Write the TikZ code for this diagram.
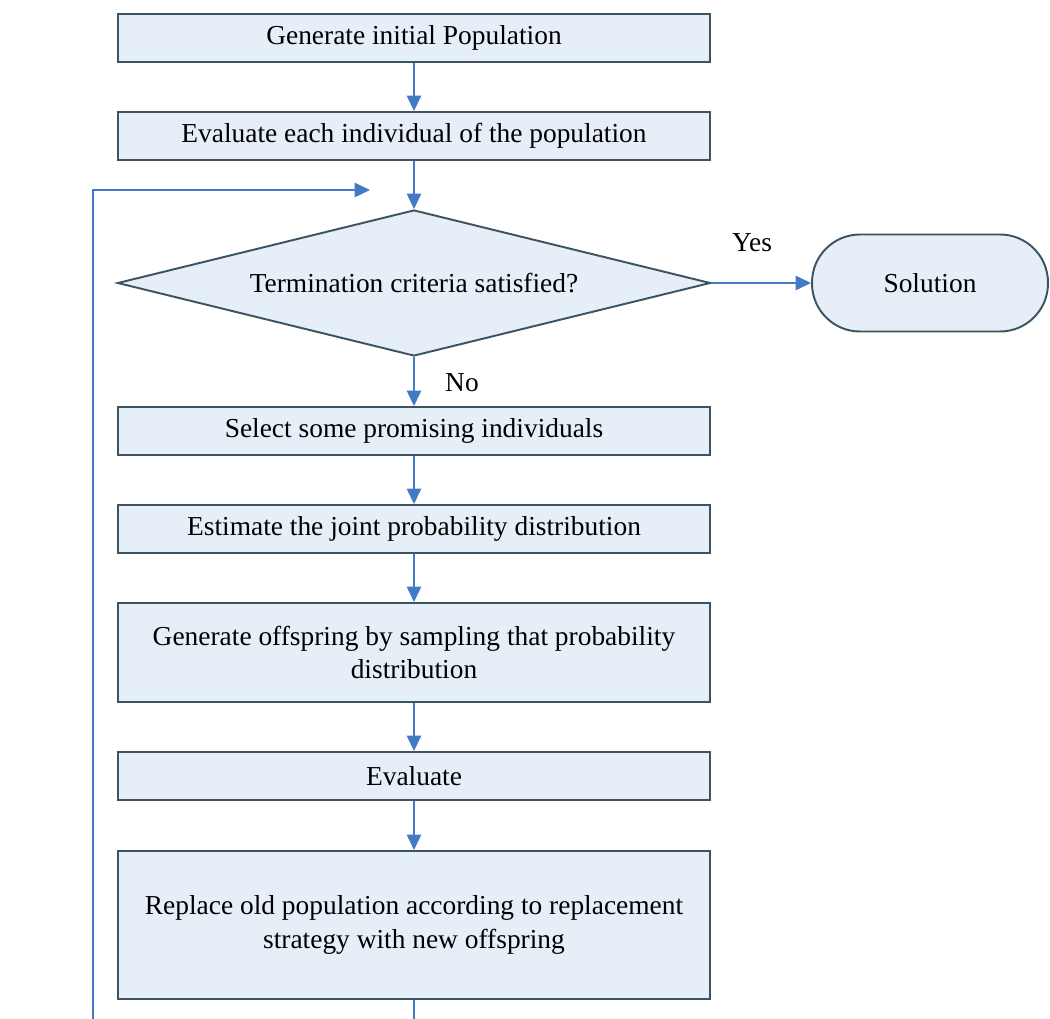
\documentclass[tikz,border=0pt]{standalone}
\usepackage{fontspec}
\setmainfont{Liberation Serif}
\usetikzlibrary{shapes.geometric,arrows.meta}
\definecolor{boxfill}{RGB}{230,238,248}
\definecolor{boxline}{RGB}{60,84,98}
\definecolor{flowblue}{RGB}{66,122,198}
\begin{document}
\begin{tikzpicture}[
  x=1cm,y=1cm,
  stepbox/.style={draw=boxline, line width=1.1pt, fill=boxfill, font=\fontsize{15.6}{19}\selectfont, align=center, minimum width=11.84cm, minimum height=0.96cm, inner sep=2pt},
  decision/.style={diamond, draw=boxline, line width=1.1pt, fill=boxfill, font=\fontsize{15.6}{19}\selectfont, minimum width=11.86cm, minimum height=2.92cm, aspect=4.06, inner sep=0pt},
  terminal/.style={draw=boxline, line width=1.1pt, fill=boxfill, font=\fontsize{15.6}{19}\selectfont, rounded corners=0.96cm, minimum width=4.72cm, minimum height=1.94cm},
  lbl/.style={font=\fontsize{15.6}{19}\selectfont, inner sep=1pt},
  flow/.style={draw=flowblue, line width=0.8pt, -{Triangle[length=0.31cm,width=0.29cm]}},
  plain/.style={draw=flowblue, line width=0.8pt}
]
\useasboundingbox (0,0) rectangle (21,-20.38);

\node[stepbox]  (init)     at (8.28,-0.76)  {Generate initial Population};
\node[stepbox]  (evalall)  at (8.28,-2.72)  {Evaluate each individual of the population};
\node[decision] (term)     at (8.28,-5.66)  {Termination criteria satisfied?};
\node[terminal] (solution) at (18.6,-5.66)  {Solution};
\node[stepbox]  (select)   at (8.28,-8.62)  {Select some promising individuals};
\node[stepbox]  (estimate) at (8.28,-10.58) {Estimate the joint probability distribution};
\node[stepbox, minimum height=1.98cm] (sample) at (8.28,-13.05) {Generate offspring by sampling that probability\\distribution};
\node[stepbox]  (evalnew)  at (8.28,-15.52) {Evaluate};
\node[stepbox, minimum height=2.96cm] (replace) at (8.28,-18.5) {Replace old population according to replacement\\strategy with new offspring};

\node[lbl] (yes) at (15.04,-4.86) {Yes};
\node[lbl] (no)  at (9.24,-7.66)  {No};

\coordinate (tail)     at (8.28,-20.38);
\coordinate (loopfoot) at (1.86,-20.38);
\coordinate (loopturn) at (1.86,-3.8);
\coordinate (loophead) at (7.4,-3.8);

\draw[flow] (init) -- (evalall);
\draw[flow] (evalall) -- (term);
\draw[flow] (term) -- (solution);
\draw[flow] (term) -- (select);
\draw[flow] (select) -- (estimate);
\draw[flow] (estimate) -- (sample);
\draw[flow] (sample) -- (evalnew);
\draw[flow] (evalnew) -- (replace);
\draw[plain] (replace) -- (tail);
\draw[flow] (loopfoot) -- (loopturn) -- (loophead);
\end{tikzpicture}
\end{document}
